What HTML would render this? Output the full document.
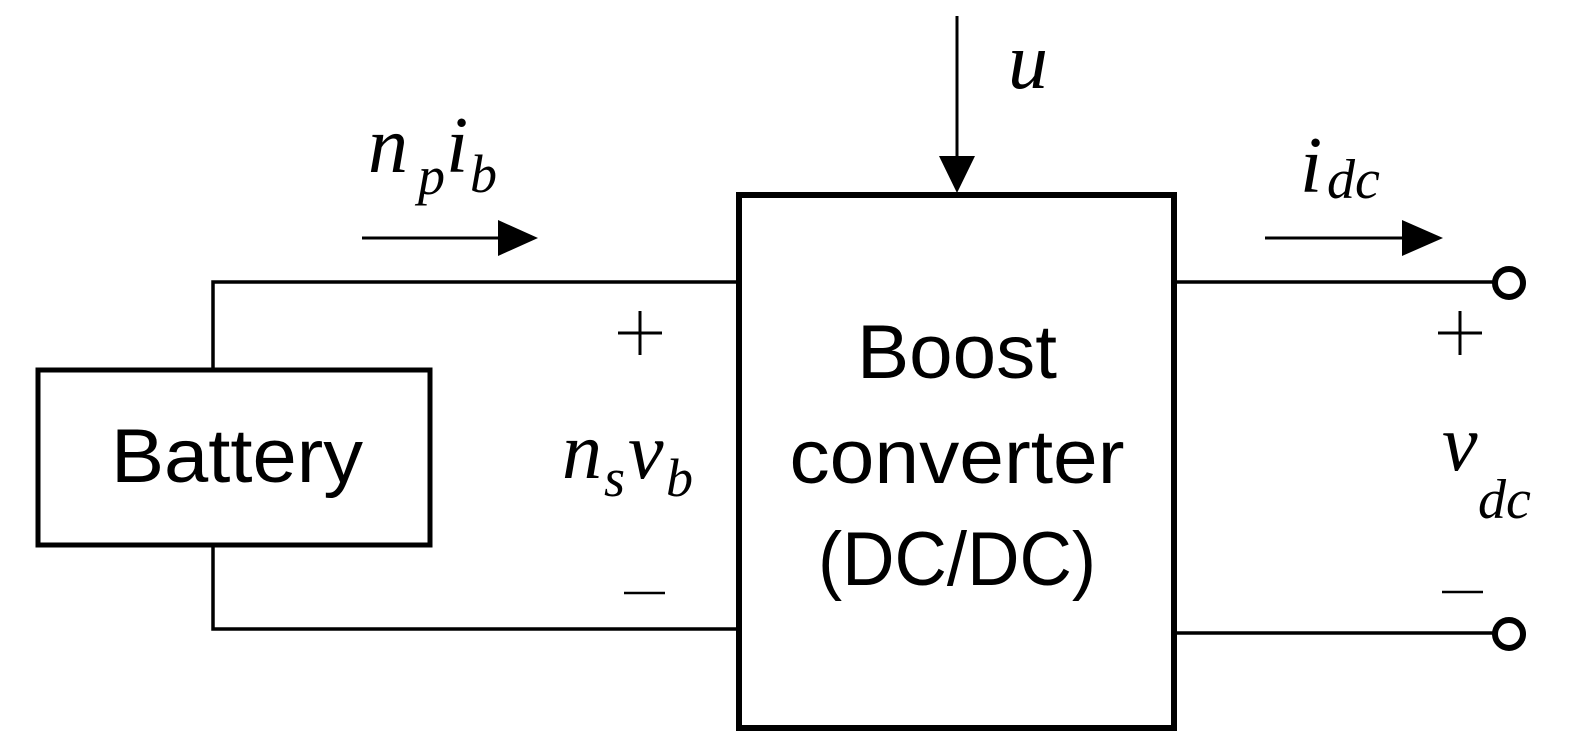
<!DOCTYPE html>
<html><head><meta charset="utf-8"><style>html,body{margin:0;padding:0;background:#fff}svg{display:block}</style></head>
<body>
<svg width="1584" height="748" viewBox="0 0 1584 748" xmlns="http://www.w3.org/2000/svg">
<rect width="1584" height="748" fill="#fff"/>
<g fill="none" stroke="#000">
<rect x="38" y="370" width="392" height="175" stroke-width="5"/>
<rect x="739" y="195" width="435" height="533" stroke-width="6"/>
<polyline points="213,370 213,282 737,282" stroke-width="3.5"/>
<polyline points="213,545 213,629 737,629" stroke-width="3.5"/>
<line x1="1176" y1="282" x2="1494" y2="282" stroke-width="3.5"/>
<line x1="1176" y1="633" x2="1494" y2="633" stroke-width="3.5"/>
<circle cx="1509" cy="283" r="14" stroke-width="6"/>
<circle cx="1509" cy="634" r="14" stroke-width="6"/>
<line x1="362" y1="238" x2="500" y2="238" stroke-width="3"/>
<line x1="1265" y1="238" x2="1405" y2="238" stroke-width="3"/>
<line x1="957" y1="16" x2="957" y2="160" stroke-width="3"/>
<line x1="618" y1="333" x2="662" y2="333" stroke-width="3"/>
<line x1="640" y1="311" x2="640" y2="355" stroke-width="3"/>
<line x1="624" y1="593" x2="665" y2="593" stroke-width="2.5"/>
<line x1="1438" y1="333" x2="1482" y2="333" stroke-width="3"/>
<line x1="1460" y1="311" x2="1460" y2="355" stroke-width="3"/>
<line x1="1442" y1="592" x2="1483" y2="592" stroke-width="2.5"/>
</g>
<g fill="#000">
<polygon points="498,220 538,238 498,256"/>
<polygon points="1402,220 1443,238 1402,256"/>
<polygon points="939,156 975,156 957,193"/>
</g>
<g font-family="'Liberation Sans', sans-serif" font-size="76" text-anchor="middle" fill="#000">
<text x="237" y="482" textLength="252" lengthAdjust="spacingAndGlyphs">Battery</text>
<text x="957" y="378" textLength="200" lengthAdjust="spacingAndGlyphs">Boost</text>
<text x="957" y="483" textLength="335" lengthAdjust="spacingAndGlyphs">converter</text>
<text x="957" y="585" textLength="278" lengthAdjust="spacingAndGlyphs">(DC/DC)</text>
</g>
<g font-family="'Liberation Serif', serif" font-style="italic" fill="#000">
<text x="368" y="172" font-size="80">n</text>
<text x="418" y="194" font-size="54">p</text>
<text x="446" y="172" font-size="80">i</text>
<text x="470" y="192" font-size="54">b</text>
<text x="1008" y="88" font-size="80">u</text>
<text x="1300" y="192" font-size="80">i</text>
<text x="1327" y="198" font-size="56">dc</text>
<text x="562" y="478" font-size="80">n</text>
<text x="604" y="496" font-size="54">s</text>
<text x="628" y="478" font-size="80">v</text>
<text x="666" y="496" font-size="54">b</text>
<text x="1442" y="470" font-size="80">v</text>
<text x="1478" y="518" font-size="56">dc</text>
</g>
</svg>
</body></html>
